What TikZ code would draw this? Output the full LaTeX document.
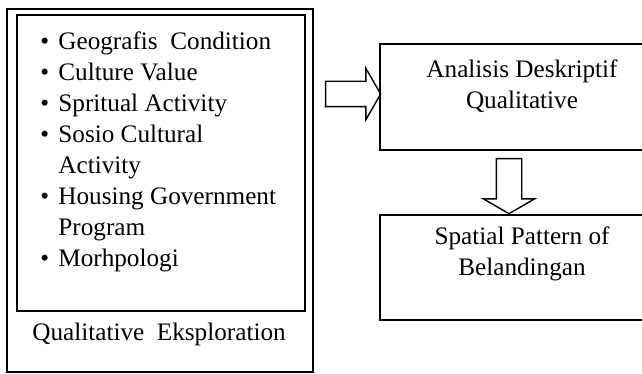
\documentclass[tikz,border=0pt]{standalone}
\usepackage{fontspec}
\setmainfont{Liberation Serif}
\usepackage{tikz}
\usetikzlibrary{positioning,shapes.arrows}
\tikzset{box/.style={draw,line width=0.8pt,inner sep=0pt},
txt/.style={inner sep=0pt,font=\fontsize{12.6}{15.5}\selectfont},
blockarrow/.style={single arrow,draw,line width=0.7pt,inner sep=0pt,inner ysep=6pt,minimum height=27.5pt,single arrow head extend=6.5pt,single arrow tip angle=120}}
\newcommand{\itm}{\makebox[9pt][l]{\textbullet}}

\begin{document}
\begin{tikzpicture}[x=0.5pt,y=-0.5pt]
\clip (0,0) rectangle (642,374);
\node (outer) at (160,190.5)[box,minimum width=153pt,minimum height=181.5pt] {};
\node (inner) at (161,163)[box,minimum width=144pt,minimum height=148pt] {};
\node (list) at (40,31)[txt,anchor=north west,align=left] {\itm Geografis\ \ Condition\\
\itm Culture Value\\
\itm Spritual Activity\\
\itm Sosio Cultural\\
\hspace*{9pt}Activity\\
\itm Housing Government\\
\hspace*{9pt}Program\\
\itm Morhpologi};
\node (qe) at (159,340)[txt,anchor=base] {Qualitative\ \ Eksploration};
\node (ana) at (522,97)[box,minimum width=142pt,minimum height=53pt] {};
\node (anat) [txt,align=center,below=8.3pt of ana.north] {Analisis Deskriptif\\Qualitative};
\node (spa) at (522,267.5)[box,minimum width=142pt,minimum height=52.5pt] {};
\node (spat) [txt,align=center,below=6.3pt of spa.north] {Spatial Pattern of\\Belandingan};
% block arrows
\node (toana) at (349.5,94)[blockarrow] {};
\node (tospa) at (509,182.5)[blockarrow,rotate=-90] {};
\end{tikzpicture}
\end{document}
